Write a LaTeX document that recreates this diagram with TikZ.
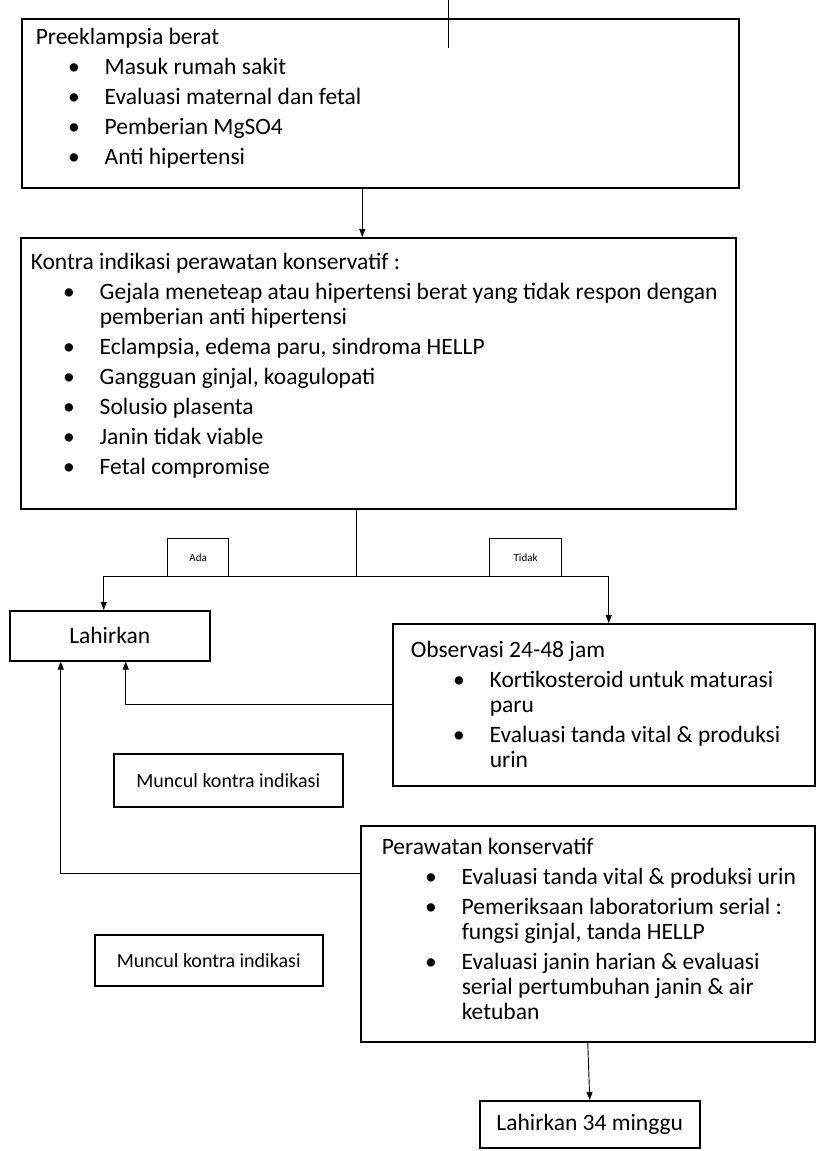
\documentclass[tikz,border=0pt]{standalone}
\usepackage{fontspec}
\setmainfont{Carlito}
\usetikzlibrary{arrows.meta}
\newlength\txtoff
\newcommand\itm[1]{\par\hangindent=\txtoff\hangafter=0\noindent\llap{\textbullet\hspace{25pt}}#1}
\newcommand\boxtext[4]{\parbox[t][#2][t]{#1}{\raggedright\setlength\parskip{5pt}\rule{0pt}{#3}#4}}
\tikzset{
  box/.style={draw, line width=1.5pt, inner sep=0pt, anchor=north west},
  tag/.style={box, fill=white, line width=1.2pt, font=\fontsize{11}{13}\selectfont},
  small/.style={font=\fontsize{20}{24}\selectfont},
  lin/.style={line width=0.9pt},
  arr/.style={line width=0.9pt, -{Triangle[length=8pt,width=6pt]}}
}
\begin{document}
\begin{tikzpicture}[x=1pt,y=-1pt,font=\fontsize{23.5}{25}\selectfont]
\useasboundingbox (0,0) rectangle (818,1151);
\fill[white] (0,0) rectangle (818,1151);
\node[box] (pre) at (21,18) {\setlength\txtoff{83pt}\boxtext{717pt}{169pt}{26pt}{\hspace*{14pt}Preeklampsia berat
  \itm{Masuk rumah sakit}\itm{Evaluasi maternal dan fetal}\itm{Pemberian MgSO4}\itm{Anti hipertensi}}};
\node[box] (kon) at (20,237) {\setlength\txtoff{79pt}\boxtext{715pt}{271pt}{32pt}{\hspace*{10pt}Kontra indikasi perawatan konservatif :
  \itm{Gejala meneteap atau hipertensi berat yang tidak respon dengan\newline pemberian anti hipertensi}
  \itm{Eclampsia, edema paru, sindroma HELLP}
  \itm{Gangguan ginjal, koagulopati}
  \itm{Solusio plasenta}
  \itm{Janin tidak viable}
  \itm{Fetal compromise}}};
\node[box, minimum width=200pt, minimum height=50pt] (lahir) at (9,610) {Lahirkan};
\node[box] (obs) at (392,623) {\setlength\txtoff{97pt}\boxtext{422pt}{162pt}{34pt}{\hspace*{18pt}Observasi 24-48 jam
  \itm{Kortikosteroid untuk maturasi\newline paru}
  \itm{Evaluasi tanda vital \& produksi\newline urin}}};
\node[box, small, minimum width=229pt, minimum height=53pt] (mun1) at (113,753) {Muncul kontra indikasi};
\node[box] (per) at (360,825) {\setlength\txtoff{101pt}\boxtext{454pt}{216pt}{29pt}{\hspace*{21pt}Perawatan konservatif
  \itm{Evaluasi tanda vital \& produksi urin}
  \itm{Pemeriksaan laboratorium serial :\newline fungsi ginjal, tanda HELLP}
  \itm{Evaluasi janin harian \& evaluasi\newline serial pertumbuhan janin \& air\newline ketuban}}};
\node[box, small, minimum width=228pt, minimum height=51pt] (mun2) at (94,934) {Muncul kontra indikasi};
\node[box, minimum width=220pt, minimum height=47pt] (l34) at (479,1100) {Lahirkan 34 minggu};
\coordinate (stub) at (448,0); \coordinate (stubend) at (448,48);
\draw[lin] (stub) -- (stubend);
\draw[arr] ([xshift=-18pt]pre.south) -- ([xshift=-18pt]pre.south |- kon.north);
\coordinate (split) at (356,576);
\draw[lin] (kon.south -| split) -- (split);
\draw[arr] (split) -| ([xshift=-6pt]lahir.north);
\draw[arr] (split) -| ([xshift=5pt]obs.north);
\draw[arr] (obs.west) -| ([xshift=16pt]lahir.south);
\draw[arr] ([yshift=60pt]per.west) -| ([xshift=-49pt]lahir.south);
\draw[arr] (per.south) -- (l34.north);
\node[tag, minimum width=61pt, minimum height=38pt] (ada) at (167,538) {Ada};
\node[tag, minimum width=72pt, minimum height=38pt] (tidak) at (489,538) {Tidak};
\end{tikzpicture}
\end{document}
